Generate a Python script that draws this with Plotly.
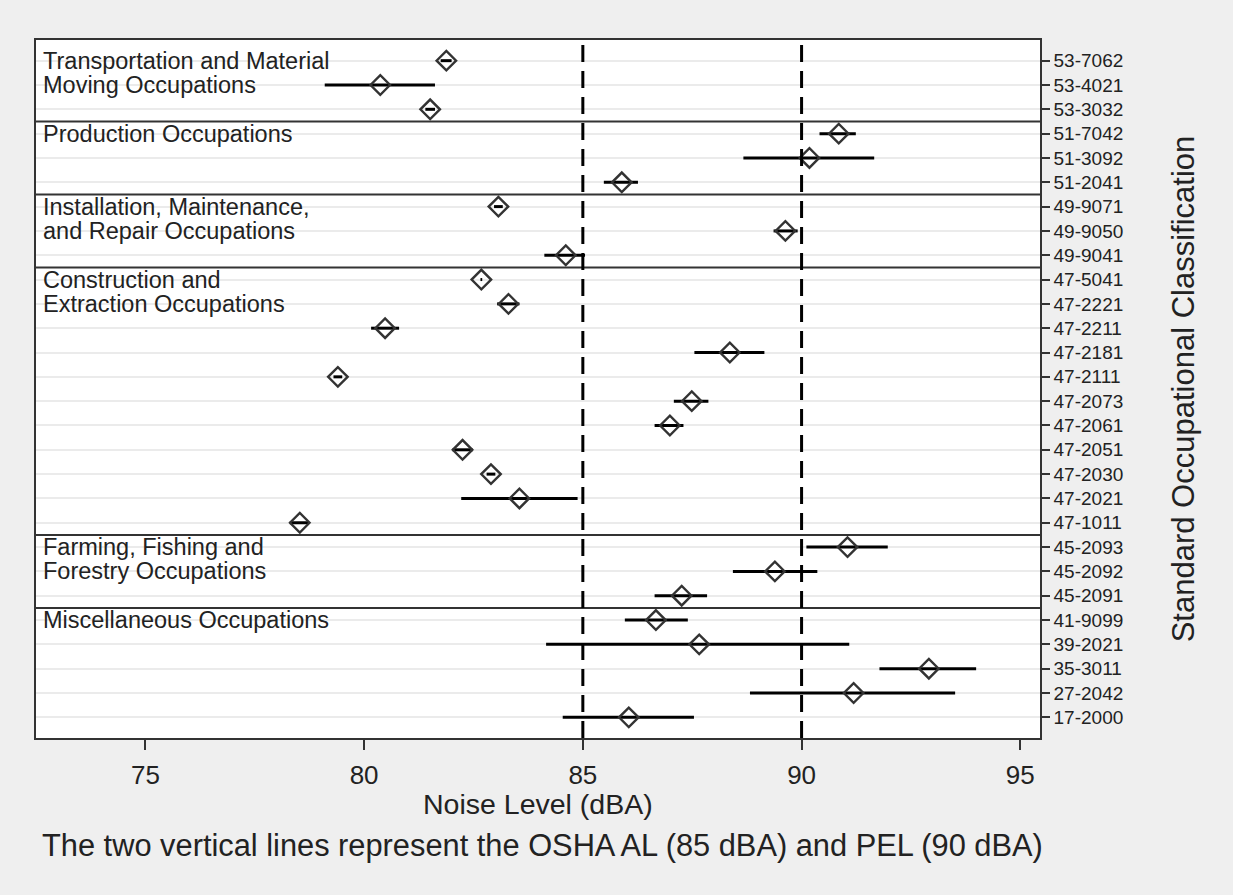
import plotly.graph_objects as go

# Categories listed top to bottom
soc_codes = ["53-7062", "53-4021", "53-3032",
             "51-7042", "51-3092", "51-2041",
             "49-9071", "49-9050", "49-9041",
             "47-5041", "47-2221", "47-2211", "47-2181", "47-2111", "47-2073",
             "47-2061", "47-2051", "47-2030", "47-2021", "47-1011",
             "45-2093", "45-2092", "45-2091",
             "41-9099", "39-2021", "35-3011", "27-2042", "17-2000"]

mean_dba = [81.88, 80.37, 81.51,
            90.85, 90.18, 85.89,
            83.07, 89.63, 84.61,
            82.68, 83.30, 80.48, 88.36, 79.40, 87.49,
            86.99, 82.25, 82.90, 83.55, 78.53,
            91.05, 89.39, 87.26,
            86.67, 87.66, 92.91, 91.19, 86.05]

ci_low = [81.75, 79.10, 81.40,
          90.41, 88.67, 85.48,
          82.97, 89.36, 84.12,
          82.66, 83.04, 80.16, 87.55, 79.30, 87.08,
          86.64, 82.02, 82.80, 82.22, 78.30,
          90.11, 88.43, 86.64,
          85.96, 84.16, 91.78, 88.82, 84.54]

ci_high = [82.00, 81.62, 81.62,
           91.24, 91.66, 86.26,
           83.17, 89.91, 85.05,
           82.70, 83.55, 80.80, 89.15, 79.50, 87.87,
           87.30, 82.48, 83.00, 84.88, 78.72,
           91.97, 90.36, 87.84,
           87.40, 91.09, 93.99, 93.51, 87.54]

# Group labels: (lines, first SOC code of group)
group_labels = [
    (["Transportation and Material", "Moving Occupations"], "53-7062"),
    (["Production Occupations"], "51-7042"),
    (["Installation, Maintenance,", "and Repair Occupations"], "49-9071"),
    (["Construction and", "Extraction Occupations"], "47-5041"),
    (["Farming, Fishing and", "Forestry Occupations"], "45-2093"),
    (["Miscellaneous Occupations"], "41-9099"),
]
group_boundaries_after = ["53-3032", "51-2041", "49-9041", "47-1011", "45-2091"]

reference_lines = [85, 90]
x_ticks = [75, 80, 85, 90, 95]
x_title = "Noise Level (dBA)"
y_title = "Standard Occupational Classification"
caption = "The two vertical lines represent the OSHA AL (85 dBA) and PEL (90 dBA)"

n = len(soc_codes)
ypos = [n - 1 - i for i in range(n)]
ymap = dict(zip(soc_codes, ypos))

FONT = "Liberation Sans, Arial, sans-serif"
TXT = "#222222"
W, H = 1233, 895
ML, MR, MT, MB = 36, 193, 40, 157
PW, PH = W - ML - MR, H - MT - MB

fig = go.Figure()

fig.add_trace(go.Scatter(
    x=mean_dba, y=ypos, mode="markers",
    marker=dict(symbol="diamond-open", size=15, color="#333333",
                line=dict(width=2.4, color="#333333")),
    error_x=dict(type="data", symmetric=False,
                 array=[h - m for h, m in zip(ci_high, mean_dba)],
                 arrayminus=[m - l for m, l in zip(mean_dba, ci_low)],
                 color="black", thickness=3, width=0),
    showlegend=False, hoverinfo="x+text", text=soc_codes,
))

shapes = []
for rl in reference_lines:
    shapes.append(dict(type="line", xref="x", yref="paper", x0=rl, x1=rl, y0=0, y1=1,
                       line=dict(color="black", width=3, dash="17px,9px"), layer="above"))
for code in group_boundaries_after:
    yb = ymap[code] - 0.5
    shapes.append(dict(type="line", xref="paper", yref="y", x0=0, x1=1, y0=yb, y1=yb,
                       line=dict(color="#333333", width=2), layer="below"))

annotations = []
for lines, code in group_labels:
    y0 = ymap[code]
    for k, t in enumerate(lines):
        annotations.append(dict(x=(41 - ML) / PW, xref="paper", y=y0 - k, yref="y",
                                text=t, showarrow=False, xanchor="left", yanchor="middle",
                                font=dict(family=FONT, size=23.5, color=TXT)))
# x-axis title and caption placed in figure pixels below the plot
annotations.append(dict(x=0.5, xref="paper", y=(H - 804 - MB) / PH, yref="paper",
                        yanchor="middle", xanchor="center", showarrow=False, text=x_title,
                        font=dict(family=FONT, size=28.5, color=TXT)))
annotations.append(dict(x=(40 - ML) / PW, xref="paper", y=(H - 846 - MB) / PH, yref="paper",
                        yanchor="middle", xanchor="left", showarrow=False, text=caption,
                        font=dict(family=FONT, size=30.8, color=TXT)))

fig.update_layout(
    width=W, height=H,
    paper_bgcolor="#efefef", plot_bgcolor="white",
    margin=dict(l=ML, r=MR, t=MT, b=MB),
    font=dict(family=FONT, color=TXT),
    shapes=shapes, annotations=annotations,
    xaxis=dict(range=[72.5, 95.45], tickvals=x_ticks, ticktext=[str(v) for v in x_ticks],
               showgrid=False, zeroline=False, ticks="outside", ticklen=10, tickwidth=1.5,
               tickcolor="#333333", showline=True, linecolor="#333333", linewidth=1.5,
               mirror=True, tickfont=dict(size=26, family=FONT, color=TXT),
               ticklabelstandoff=3),
    yaxis=dict(range=[-0.85, n - 1 + 0.85], side="right", tickvals=ypos, ticktext=soc_codes,
               showgrid=True, gridcolor="#ebebeb", gridwidth=2, zeroline=False,
               ticks="outside", ticklen=8, tickwidth=1.5, tickcolor="#333333",
               showline=True, linecolor="#333333", linewidth=1.5, mirror=True,
               tickfont=dict(size=19, family=FONT, color=TXT),
               title=dict(text=y_title, font=dict(size=31, family=FONT, color=TXT), standoff=50)),
)

fig.write_html("out.html", config={"displayModeBar": False},
               post_script="document.body.style.margin='0';document.body.style.background='#efefef';")
